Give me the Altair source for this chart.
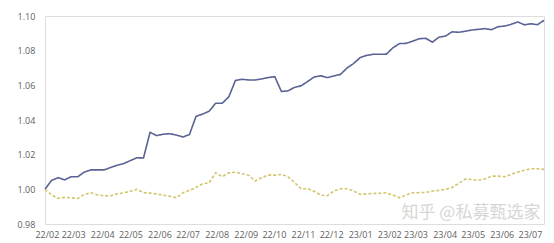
import altair as alt
import pandas as pd

start_date = "2022-01-30"
product = [1.000, 1.0052, 1.0067, 1.0055, 1.0073, 1.0073, 1.0100, 1.0112, 1.0112, 1.0112,
           1.0126, 1.0139, 1.0149, 1.0166, 1.0182, 1.0181, 1.0329, 1.0310, 1.0318, 1.0321,
           1.0313, 1.0302, 1.0316, 1.0421, 1.0434, 1.0451, 1.0497, 1.0497, 1.0534, 1.0628,
           1.0635, 1.0631, 1.0631, 1.0637, 1.0645, 1.0650, 1.0565, 1.0568, 1.0588, 1.0597,
           1.0622, 1.0648, 1.0655, 1.0645, 1.0654, 1.0663, 1.0700, 1.0726, 1.0760, 1.0773,
           1.0779, 1.0779, 1.0780, 1.0817, 1.0841, 1.0842, 1.0855, 1.0869, 1.0871, 1.0849,
           1.0878, 1.0884, 1.0909, 1.0906, 1.0912, 1.0919, 1.0923, 1.0927, 1.0921, 1.0938,
           1.0942, 1.0952, 1.0966, 1.0949, 1.0955, 1.0950, 1.0975]
benchmark = [1.000, 0.9968, 0.9948, 0.9954, 0.9951, 0.9947, 0.9971, 0.9980, 0.9968, 0.9962,
             0.9963, 0.9974, 0.9980, 0.9989, 1.0000, 0.9981, 0.9978, 0.9974, 0.9966, 0.9960,
             0.9952, 0.9980, 0.9994, 1.0011, 1.0032, 1.0038, 1.0095, 1.0073, 1.0095, 1.0099,
             1.0090, 1.0082, 1.0048, 1.0067, 1.0082, 1.0082, 1.0086, 1.0072, 1.0040, 1.0003,
             1.0004, 0.9989, 0.9966, 0.9963, 0.9991, 1.0003, 1.0003, 0.9991, 0.9971, 0.9974,
             0.9976, 0.9977, 0.9980, 0.9967, 0.9951, 0.9968, 0.9980, 0.9981, 0.9982, 0.9990,
             0.9994, 1.0000, 1.0011, 1.0034, 1.0059, 1.0057, 1.0052, 1.0060, 1.0076, 1.0076,
             1.0073, 1.0086, 1.0100, 1.0110, 1.0119, 1.0119, 1.0115]
series_names = ["产品净值", "基准"]
series_colors = ["#5a6394", "#d2c46c"]
y_ticks = [0.98, 1.00, 1.02, 1.04, 1.06, 1.08, 1.10]
watermark = "知乎 @私募甄选家"

dates = pd.date_range(start_date, periods=len(product), freq="7D")
df = pd.concat([
    pd.DataFrame({"date": dates, "value": product, "series": series_names[0]}),
    pd.DataFrame({"date": dates, "value": benchmark, "series": series_names[1]}),
])

FONT = "Open Sans"
LABEL_COLOR = "#606060"

x_enc = alt.X("date:T",
              scale=alt.Scale(domain=[dates[0].isoformat(), dates[-1].isoformat()], nice=False),
              axis=alt.Axis(format="%y/%m", tickCount={"interval": "month", "step": 1},
                            title=None, domain=False, ticks=False, grid=False,
                            labelOverlap=False, labelFlush=False, labelPadding=6,
                            labelFontSize=9, labelColor=LABEL_COLOR, labelFont=FONT))
y_enc = alt.Y("value:Q",
              scale=alt.Scale(domain=[0.98, 1.10], nice=False, zero=False),
              axis=alt.Axis(values=y_ticks, format=".2f", title=None, domain=False,
                            ticks=False, grid=False, labelAlign="left", labelPadding=28,
                            labelFontSize=9, labelColor=LABEL_COLOR, labelFont=FONT))

lines = alt.Chart(df).mark_line(strokeWidth=1.6).encode(
    x=x_enc,
    y=y_enc,
    color=alt.Color("series:N", scale=alt.Scale(domain=series_names, range=series_colors),
                    legend=None),
    strokeDash=alt.StrokeDash("series:N",
                              scale=alt.Scale(domain=series_names, range=[[1, 0], [3, 2]]),
                              legend=None),
)

wm = alt.Chart(pd.DataFrame({"t": [watermark]})).mark_text(
    font="Noto Sans CJK SC", fontSize=17, color="#d6d6d6",
    align="center", baseline="middle"
).encode(x=alt.value(426), y=alt.value(197), text="t:N")

chart = (lines + wm).properties(
    width=499, height=208,
    autosize=alt.AutoSizeParams(type="none"),
    padding={"left": 45, "top": 16, "right": 10, "bottom": 19},
).configure_view(stroke=None).configure(background="white")

chart.save("out.html", embed_options={"renderer": "svg", "actions": False})
